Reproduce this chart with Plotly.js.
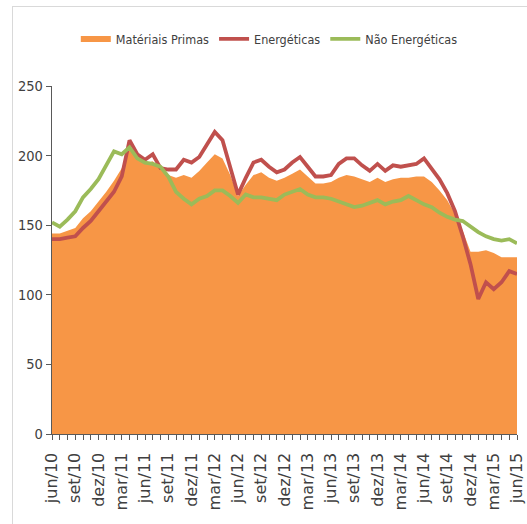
<!DOCTYPE html>
<html>
<head>
<meta charset="utf-8">
<script src="https://cdn.plot.ly/plotly-3.0.1.min.js"></script>
<style>
  html, body { margin: 0; padding: 0; background: #ffffff; }
  #wrap { position: relative; width: 527px; height: 524px; overflow: hidden; }
  #frame { position: absolute; left: 12px; top: 6px; width: 600px; height: 600px;
           border-left: 1px solid #d9d9d9; border-top: 1px solid #d9d9d9; pointer-events: none; }
  #chart { position: absolute; left: 0; top: 0; width: 527px; height: 524px; }
</style>
</head>
<body>
<div id="wrap">
  <div id="chart"></div>
  <div id="frame"></div>
</div>
<script>
const months = [
  "jun/10","jul/10","ago/10","set/10","out/10","nov/10","dez/10",
  "jan/11","fev/11","mar/11","abr/11","mai/11","jun/11","jul/11","ago/11","set/11","out/11","nov/11","dez/11",
  "jan/12","fev/12","mar/12","abr/12","mai/12","jun/12","jul/12","ago/12","set/12","out/12","nov/12","dez/12",
  "jan/13","fev/13","mar/13","abr/13","mai/13","jun/13","jul/13","ago/13","set/13","out/13","nov/13","dez/13",
  "jan/14","fev/14","mar/14","abr/14","mai/14","jun/14","jul/14","ago/14","set/14","out/14","nov/14","dez/14",
  "jan/15","fev/15","mar/15","abr/15","mai/15","jun/15"
];

const tickLabels = [
  "jun/10","set/10","dez/10","mar/11","jun/11","set/11","dez/11","mar/12","jun/12","set/12","dez/12",
  "mar/13","jun/13","set/13","dez/13","mar/14","jun/14","set/14","dez/14","mar/15","jun/15"
];

const materiasPrimas = [
  144,144,146,148,155,160,167,174,182,191,
  205,198,194,196,190,186,184,186,184,189,
  195,201,198,186,171,179,186,188,184,182,
  184,187,190,185,180,180,181,184,186,185,
  183,181,184,181,183,184,184,185,185,181,
  175,168,158,146,131,131,132,130,127,127,
  127
];

const energeticas = [
  140,140,141,142,148,153,160,167,174,185,
  211,201,197,201,191,190,190,197,195,199,
  208,217,211,191,172,184,195,197,192,188,
  190,195,199,192,185,185,186,194,198,198,
  193,189,194,189,193,192,193,194,198,191,
  183,173,160,142,122,97,109,104,109,117,
  115
];

const naoEnergeticas = [
  152,149,154,160,170,176,183,193,203,201,
  206,198,195,194,192,185,174,169,165,169,
  171,175,175,171,166,172,170,170,169,168,
  172,174,176,172,170,170,169,167,165,163,
  164,166,168,165,167,168,171,168,165,163,
  159,156,154,153,149,145,142,140,139,140,
  137
];

const seriesNames = ["Matériais Primas", "Energéticas", "Não Energéticas"];
const yTicks = [0, 50, 100, 150, 200, 250];

const txt = "#404040";
const narrow = "'Liberation Sans Narrow', 'DejaVu Sans Condensed', 'Arial Narrow', sans-serif";

const traces = [
  {
    x: months, y: materiasPrimas, name: seriesNames[0],
    type: "scatter", mode: "none", fill: "tozeroy",
    fillcolor: "#F79646", hoverinfo: "skip"
  },
  {
    x: months, y: energeticas, name: seriesNames[1],
    type: "scatter", mode: "lines",
    line: { color: "#C0504D", width: 3.8 }, hoverinfo: "skip"
  },
  {
    x: months, y: naoEnergeticas, name: seriesNames[2],
    type: "scatter", mode: "lines",
    line: { color: "#9BBB59", width: 3.8 }, hoverinfo: "skip"
  }
];

const layout = {
  width: 527, height: 524,
  paper_bgcolor: "rgba(0,0,0,0)", plot_bgcolor: "rgba(0,0,0,0)",
  margin: { l: 52, r: 10, t: 86, b: 90, pad: 0 },
  showlegend: true,
  legend: {
    orientation: "h", xref: "container", yref: "container",
    x: 0.511, xanchor: "center", y: 0.925, yanchor: "middle",
    font: { family: narrow, size: 12.5, color: txt },
    itemwidth: 30, traceorder: "normal", bgcolor: "rgba(0,0,0,0)"
  },
  xaxis: {
    type: "category", range: [0, months.length - 1],
    tickmode: "array", tickvals: months,
    ticktext: months.map(m => tickLabels.includes(m) ? m : ""),
    tickangle: -90, ticks: "outside", ticklen: 5, tickwidth: 1, tickcolor: "#595959",
    ticklabelstandoff: 6,
    showline: true, linecolor: "#595959", linewidth: 1.3,
    showgrid: false, zeroline: false, automargin: false,
    tickfont: { family: "'DejaVu Sans', sans-serif", size: 16, color: txt }
  },
  yaxis: {
    range: [0, 250], tickmode: "array", tickvals: yTicks,
    ticks: "outside", ticklen: 5, tickwidth: 1, tickcolor: "#595959",
    showline: true, linecolor: "#595959", linewidth: 1.3,
    showgrid: false, zeroline: false, automargin: false,
    tickfont: { family: narrow, size: 14.5, color: txt }
  }
};

Plotly.newPlot("chart", traces, layout, { staticPlot: true, displayModeBar: false });
</script>
</body>
</html>
